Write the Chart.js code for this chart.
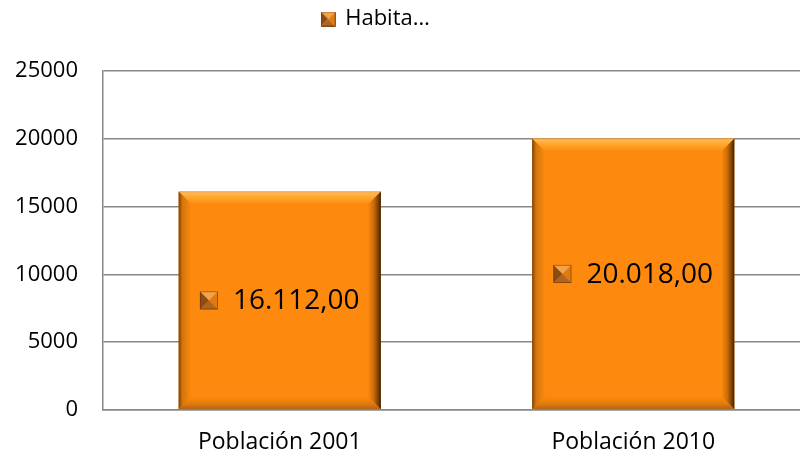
<!DOCTYPE html>
<html>
<head>
<meta charset="utf-8">
<script src="https://cdn.jsdelivr.net/npm/chart.js@4.4.1/dist/chart.umd.min.js"></script>
<style>
  html, body { margin: 0; padding: 0; background: #fff; overflow: hidden; }
  #wrap { width: 810px; height: 456px; position: relative; }
</style>
</head>
<body>
<div id="wrap"><canvas id="c"></canvas></div>
<script>
const categories = ['Población 2001', 'Población 2010'];
const habitantes = [16112, 20018];
const yTicks = [0, 5000, 10000, 15000, 20000, 25000];
const seriesName = 'Habita…';

const FONT = '"Open Sans", Lato, "DejaVu Sans", sans-serif';
const GRID = '#878787';

function fmt(v) {
  const parts = v.toFixed(2).split('.');
  return parts[0].replace(/\B(?=(\d{3})+(?!\d))/g, '.') + ',' + parts[1];
}

function drawIcon(ctx, x, y, s) {
  const cx = x + s / 2, cy = y + s / 2;
  const tri = (pts, col) => {
    ctx.beginPath();
    ctx.moveTo(pts[0][0], pts[0][1]);
    for (let i = 1; i < pts.length; i++) ctx.lineTo(pts[i][0], pts[i][1]);
    ctx.closePath();
    ctx.fillStyle = col;
    ctx.fill();
  };
  tri([[x, y], [x + s, y], [cx, cy]], '#F4A24A');
  tri([[x, y], [cx, cy], [x, y + s]], '#8E4C12');
  tri([[x + s, y], [x + s, y + s], [cx, cy]], '#E07A12');
  tri([[x, y + s], [cx, cy], [x + s, y + s]], '#B0641A');
  ctx.strokeStyle = 'rgba(90,45,5,0.6)';
  ctx.lineWidth = 0.8;
  ctx.strokeRect(x + 0.4, y + 0.4, s - 0.8, s - 0.8);
}

const legendIcon = document.createElement('canvas');
legendIcon.width = 15; legendIcon.height = 15;
drawIcon(legendIcon.getContext('2d'), 0, 0, 15);

const bevelPlugin = {
  id: 'bevel',
  afterDatasetsDraw(chart) {
    const ctx = chart.ctx;
    const meta = chart.getDatasetMeta(0);
    meta.data.forEach((bar, i) => {
      const p = bar.getProps(['x', 'y', 'base', 'width'], true);
      const L = p.x - p.width / 2, R = p.x + p.width / 2, T = p.y, B = p.base;
      const b = 13;
      const poly = (pts, fill) => {
        ctx.beginPath();
        ctx.moveTo(pts[0][0], pts[0][1]);
        for (let k = 1; k < pts.length; k++) ctx.lineTo(pts[k][0], pts[k][1]);
        ctx.closePath();
        ctx.fillStyle = fill;
        ctx.fill();
      };
      ctx.save();
      let g = ctx.createLinearGradient(0, T, 0, T + b);
      g.addColorStop(0, '#E9A35C');
      g.addColorStop(0.12, '#FFB94E');
      g.addColorStop(0.45, '#FFA62C');
      g.addColorStop(1, '#FD8A0F');
      poly([[L, T], [R, T], [R - b, T + b], [L + b, T + b]], g);

      g = ctx.createLinearGradient(0, B - b, 0, B);
      g.addColorStop(0, '#FD8A0F');
      g.addColorStop(0.6, '#E07A0C');
      g.addColorStop(1, '#B0631A');
      poly([[L, B], [L + b, B - b], [R - b, B - b], [R, B]], g);

      g = ctx.createLinearGradient(L, 0, L + b, 0);
      g.addColorStop(0, '#7A420A');
      g.addColorStop(0.3, '#D5760C');
      g.addColorStop(1, '#FD8A0F');
      poly([[L, T], [L + b, T + b], [L + b, B - b], [L, B]], g);

      g = ctx.createLinearGradient(R - b, 0, R, 0);
      g.addColorStop(0, '#FD8A0F');
      g.addColorStop(0.45, '#CC6C08');
      g.addColorStop(0.8, '#7A4004');
      g.addColorStop(1, '#3C2200');
      poly([[R, T], [R, B], [R - b, B - b], [R - b, T + b]], g);
      ctx.restore();

      // data label
      const txt = fmt(chart.data.datasets[0].data[i]);
      ctx.save();
      ctx.font = '28px ' + FONT;
      const tw = ctx.measureText(txt).width;
      const iconS = 18, gap = 15;
      const total = iconS + gap + tw;
      const cy = (T + B) / 2;
      const sx = p.x - total / 2;
      drawIcon(ctx, sx, cy - iconS / 2, iconS);
      ctx.fillStyle = '#000';
      ctx.textBaseline = 'middle';
      ctx.textAlign = 'left';
      ctx.fillText(txt, sx + iconS + gap, cy + 1);
      ctx.restore();
    });
  }
};

const legendFitPlugin = {
  id: 'legendFit',
  beforeInit(chart) {
    const lg = chart.legend;
    if (lg) {
      const orig = lg.fit;
      lg.fit = function () { orig.call(this); this.height = 71; };
    }
  },
  afterLayout(chart) {
    const lg = chart.legend;
    if (lg) { lg.left -= 29; lg.right -= 29; }
  }
};

new Chart(document.getElementById('c'), {
  type: 'bar',
  data: {
    labels: categories,
    datasets: [{
      label: seriesName,
      data: habitantes,
      backgroundColor: '#FD8A0F',
      borderWidth: 0,
      categoryPercentage: 1.0,
      barPercentage: 0.572
    }]
  },
  options: {
    responsive: true,
    maintainAspectRatio: false,
    animation: false,
    layout: { padding: { left: 0, right: 0, top: 0, bottom: 0 } },
    plugins: {
      tooltip: { enabled: false },
      legend: {
        display: true,
        position: 'top',
        labels: {
          usePointStyle: true,
          pointStyle: legendIcon,
          boxWidth: 12,
          boxHeight: 12,
          padding: 8,
          color: '#000',
          font: { family: FONT, size: 22 }
        }
      }
    },
    scales: {
      x: {
        grid: { display: false, drawTicks: false },
        border: { display: true, color: GRID, width: 1.5 },
        ticks: { color: '#000', padding: 19, font: { family: FONT, size: 23 } },
        afterFit(scale) { scale.height = 46; }
      },
      y: {
        min: 0,
        max: 25000,
        afterBuildTicks(scale) { scale.ticks = yTicks.map(v => ({ value: v })); },
        grid: { color: GRID, lineWidth: 1.5, drawTicks: false },
        border: { display: true, color: GRID, width: 1.5 },
        ticks: {
          color: '#000', padding: 25, font: { family: FONT, size: 22 },
          callback: (v) => String(v)
        },
        afterFit(scale) { scale.width = 103; }
      }
    }
  },
  plugins: [legendFitPlugin, bevelPlugin]
});
</script>
</body>
</html>
